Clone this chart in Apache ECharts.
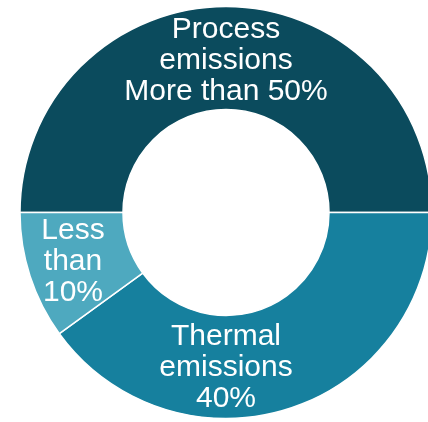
<!DOCTYPE html>
<html>
<head>
<meta charset="utf-8">
<script src="https://cdn.jsdelivr.net/npm/echarts@6/dist/echarts.min.js"></script>
<style>
html,body{margin:0;padding:0;background:#fff;}
#chart{width:428px;height:422px;}
</style>
</head>
<body>
<div id="chart"></div>
<script>
const categories = ['Process emissions', 'Thermal emissions', 'Less than 10%'];
const values = [50, 40, 10];
const labelTexts = ['Process\nemissions\nMore than 50%', 'Thermal\nemissions\n40%', 'Less\nthan\n10%'];
const colors = ['#0b4b5d', '#16809e', '#4ea9bf'];
const labelPos = [[226, 61], [226, 368], [73, 262]];

const chart = echarts.init(document.getElementById('chart'));
chart.setOption({
  animation: false,
  series: [{
    type: 'pie',
    center: [226, 212.5],
    radius: [103, 206],
    startAngle: 180,
    clockwise: true,
    silent: true,
    itemStyle: { borderColor: '#ffffff', borderWidth: 1.5 },
    label: {
      show: true,
      position: 'inside',
      color: '#ffffff',
      fontFamily: 'Liberation Sans, Arial, sans-serif',
      fontSize: 30,
      lineHeight: 31,
      align: 'center',
      formatter: p => labelTexts[p.dataIndex]
    },
    labelLine: { show: false },
    labelLayout: p => ({
      x: labelPos[p.dataIndex][0],
      y: labelPos[p.dataIndex][1],
      align: 'center',
      verticalAlign: 'middle'
    }),
    emphasis: { disabled: true },
    data: categories.map((c, i) => ({ name: c, value: values[i], itemStyle: { color: colors[i] } }))
  }]
});
</script>
</body>
</html>
